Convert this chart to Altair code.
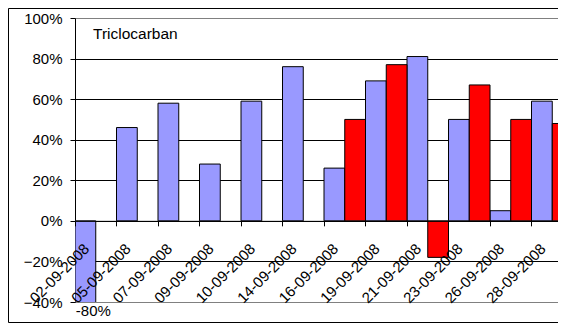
import altair as alt
import pandas as pd

dates = ["02-09-2008", "05-09-2008", "07-09-2008", "09-09-2008", "10-09-2008", "14-09-2008",
         "16-09-2008", "19-09-2008", "21-09-2008", "23-09-2008", "26-09-2008", "28-09-2008"]
series1 = [-0.80, 0.46, 0.58, 0.28, 0.59, 0.76, 0.26, 0.69, 0.81, 0.50, 0.05, 0.59]
series2 = [None, None, None, None, None, None, 0.50, 0.77, -0.18, 0.67, 0.50, 0.48]
labels1 = ["-80%", "", "", "", "", "", "", "", "", "", "", ""]
y_ticks = [-0.4, -0.2, 0.0, 0.2, 0.4, 0.6, 0.8, 1.0]
title_text = ["Triclocarban"]

rows = []
for d, v, l in zip(dates, series1, labels1):
    rows.append({"date": d, "series": "S1", "value": v, "label": l})
for d, v in zip(dates, series2):
    rows.append({"date": d, "series": "S2", "value": v, "label": ""})
df = pd.DataFrame(rows)

W, H = 498, 284
ymin, ymax = -0.4, 1.0
zero_offset = -(0 - ymin) / (ymax - ymin) * H

FONT = "Liberation Sans"

x_enc = alt.X("date:N", sort=dates,
              scale=alt.Scale(paddingInner=0, paddingOuter=0),
              axis=alt.Axis(title=None, labelAngle=-45, labelFontSize=15, labelFont=FONT,
                            labelColor="black", labelPadding=15, labelOffset=-14,
                            bandPosition=0, offset=zero_offset, domainColor="black",
                            tickColor="black", tickSize=5, grid=False, zindex=1,
                            labelOverlap=False))
xo_enc = alt.XOffset("series:N", scale=alt.Scale(domain=["S1", "S2"], paddingInner=0, paddingOuter=0))
y_scale = alt.Scale(domain=[ymin, ymax], nice=False, zero=False)

bars = alt.Chart(df).mark_bar(stroke="black", strokeWidth=1, clip=True).encode(
    x=x_enc,
    xOffset=xo_enc,
    y=alt.Y("value:Q", scale=y_scale,
            axis=alt.Axis(title=None, values=y_ticks, format=".0%", labelFontSize=15,
                          labelFont=FONT, labelColor="black", labelPadding=8,
                          domainColor="black", tickColor="black", tickSize=5,
                          gridColor=alt.condition("datum.value == 1 || datum.value == -0.4",
                                                  alt.value("#808080"), alt.value("black")),
                          gridOpacity=1)),
    color=alt.Color("series:N", scale=alt.Scale(domain=["S1", "S2"], range=["#9999FF", "#FF0000"]),
                    legend=None),
)

lbl = alt.Chart(df).transform_filter("datum.label != ''").transform_calculate(
    yc=f"max(datum.value, {ymin})"
).mark_text(fontSize=15, font=FONT, color="black", dx=8, dy=9, baseline="middle").encode(
    x=alt.X("date:N", sort=dates),
    xOffset=alt.XOffset("series:N"),
    y=alt.Y("yc:Q"),
    text="label:N",
)

ttl = alt.Chart(pd.DataFrame({"t": title_text})).mark_text(
    fontSize=15.5, font=FONT, color="black", align="left", baseline="alphabetic"
).encode(x=alt.value(18), y=alt.value(21), text="t:N")

frame = alt.Chart(pd.DataFrame({"t": title_text})).mark_rect(
    filled=False, stroke="black", strokeWidth=1, clip=False
).encode(x=alt.value(-66.5), x2=alt.value(640), y=alt.value(-9.5), y2=alt.value(304.5))

chart = alt.layer(bars, lbl, ttl, frame).properties(
    width=W, height=H,
    autosize=alt.AutoSizeParams(type="none"),
    padding={"left": 67, "top": 10, "right": -15, "bottom": 21},
).configure_view(stroke="#808080", strokeWidth=1).configure(background="white")

chart.save("out.html", embed_options={"renderer": "svg", "actions": False})
